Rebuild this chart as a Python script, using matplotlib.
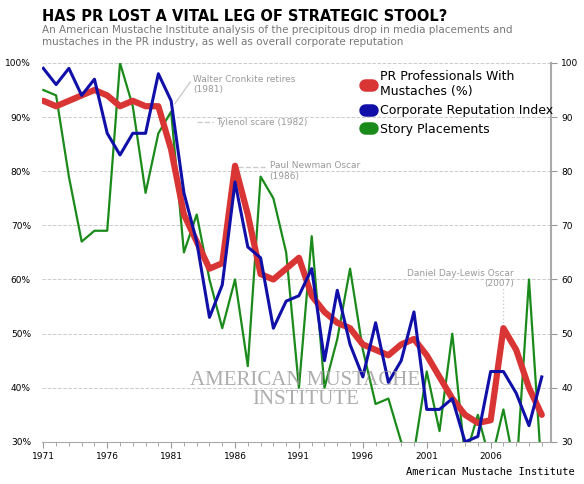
import matplotlib
matplotlib.use("Agg")
import matplotlib.pyplot as plt
import numpy as np

years = np.arange(1971, 2011)
pr_mustache = [93, 92, 93, 94, 95, 94, 92, 93, 92, 92, 84, 72, 67, 62, 63, 81, 72, 61, 60, 62,
               64, 57, 54, 52, 51, 48, 47, 46, 48, 49, 46, 42, 38, 35, 33.5, 34, 51, 47, 40, 35]
reputation = [99, 96, 99, 94, 97, 87, 83, 87, 87, 98, 93, 76, 67, 53, 59, 78, 66, 64, 51, 56,
              57, 62, 45, 58, 48, 42, 52, 41, 45, 54, 36, 36, 38, 30, 31, 43, 43, 39, 33, 42]
placements = [95, 94, 79, 67, 69, 69, 100, 92, 76, 87, 91, 65, 72, 60, 51, 60, 44, 79, 75, 65,
              40, 68, 40, 49, 62, 47, 37, 38, 30, 28, 43, 32, 50, 27, 35, 26, 36, 24, 60, 24]
tick_years = [1971, 1976, 1981, 1986, 1991, 1996, 2001, 2006]
events = [("Walter Cronkite retires\n(1981)", 1981), ("Tylenol scare (1982)", 1982),
          ("Paul Newman Oscar\n(1986)", 1986), ("Daniel Day-Lewis Oscar\n(2007)", 2007)]

fig = plt.figure(figsize=(5.84, 4.84), dpi=100)
ax = fig.add_axes([0.072, 0.087, 0.871, 0.783])
ax.set_xlim(1970.9, 2010.7)
ax.set_ylim(30, 100)

ax.plot(years, pr_mustache, color="#d93535", lw=4.5, solid_capstyle="round", zorder=3,
        label="PR Professionals With\nMustaches (%)")
ax.plot(years, reputation, color="#1010a8", lw=2.2, zorder=4, label="Corporate Reputation Index")
ax.plot(years, placements, color="#1a8a1a", lw=1.6, zorder=2, label="Story Placements")

ax.set_yticks(range(30, 101, 10))
ax.set_yticklabels([f"{v}%" for v in range(30, 101, 10)], fontsize=6.5)
ax.set_xticks(tick_years)
ax.set_xticks(years, minor=True)
ax.tick_params(axis="x", labelsize=6.5, length=4, color="#999999")
ax.tick_params(axis="x", which="minor", length=3, color="#999999")
ax.tick_params(axis="y", length=0, pad=8)
ax.grid(axis="y", ls="--", color="#cccccc", lw=0.7)
for s in ["top", "left"]:
    ax.spines[s].set_visible(False)
ax.spines["right"].set_color("#aaaaaa")
ax.spines["right"].set_linewidth(1.5)
ax.spines["bottom"].set_color("#aaaaaa")

ax2 = ax.twinx()
ax2.set_ylim(30, 100)
ax2.set_yticks(range(30, 101, 10))
ax2.tick_params(axis="y", labelsize=6.5, length=4, color="#999999")
for s in ["top", "left", "bottom", "right"]:
    ax2.spines[s].set_visible(False)

# annotations
ax.plot([1981.3, 1982.5], [92.5, 96.5], color="#cccccc", lw=1)
ax.text(1982.7, 97.8, events[0][0], fontsize=6.5, color="#999999", va="top")
ax.plot([1983, 1984.3], [89, 89], color="#cccccc", lw=1, ls="--")
ax.text(1984.5, 89, events[1][0], fontsize=6.5, color="#999999", va="center")
ax.plot([1986.2, 1988.5], [80.8, 80.8], color="#cccccc", lw=1, ls="--")
ax.text(1988.7, 81.8, events[2][0], fontsize=6.5, color="#999999", va="top")
ax.plot([2007, 2007], [52, 58.5], color="#cccccc", lw=1, ls=":")
ax.text(2007.8, 62, events[3][0], fontsize=6.5, color="#999999", va="top", ha="right",
        multialignment="right")

# watermark
ax.text(1991.5, 36, "AMERICAN MUSTACHE\nINSTITUTE", fontsize=15, family="Liberation Serif",
        color="#999999", alpha=0.8, ha="center", va="bottom", linespacing=1.0, zorder=5)

leg = ax.legend(loc="upper left", bbox_to_anchor=(0.62, 1.0), frameon=False, fontsize=9,
                handlelength=0.6, handletextpad=0.6, labelspacing=0.45, borderaxespad=0.2)
for h in leg.legend_handles:
    h.set_linewidth(9)
    h.set_solid_capstyle("round")

fig.text(0.072, 0.965, "HAS PR LOST A VITAL LEG OF STRATEGIC STOOL?", fontsize=10.5,
         weight="bold", va="center")
fig.text(0.072, 0.925, "An American Mustache Institute analysis of the precipitous drop in media placements and\n"
         "mustaches in the PR industry, as well as overall corporate reputation",
         fontsize=7.5, color="#777777", va="center", linespacing=1.2)
fig.text(0.985, 0.018, "American Mustache Institute", fontsize=7.5, family="DejaVu Sans Mono",
         ha="right")

fig.savefig("out.png", dpi=100, facecolor="white")
